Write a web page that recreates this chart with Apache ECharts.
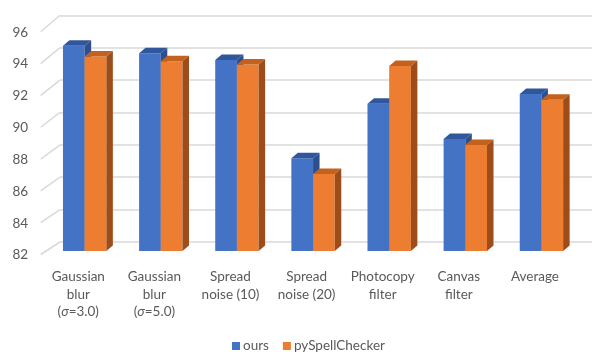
<!DOCTYPE html>
<html>
<head>
<meta charset="utf-8">
<script src="https://cdn.jsdelivr.net/npm/echarts@6/dist/echarts.min.js"></script>
<style>
  html, body { margin: 0; padding: 0; background: #fff; }
  #chart { width: 592px; height: 352px; }
</style>
</head>
<body>
<div id="chart"></div>
<script>
// Recognition accuracy per distortion type
const categories = [
  'Gaussian\nblur\n(σ=3.0)',
  'Gaussian\nblur\n(σ=5.0)',
  'Spread\nnoise (10)',
  'Spread\nnoise (20)',
  'Photocopy\nfilter',
  'Canvas\nfilter',
  'Average'
];
const seriesNames = ['ours', 'pySpellChecker'];
const ours = [94.67, 94.2, 93.79, 87.72, 91.09, 88.91, 91.69];
const pySpellChecker = [94.0, 93.71, 93.52, 86.75, 93.42, 88.54, 91.34];
const yMin = 82, yMax = 96, yStep = 2;
const yTicks = [82, 84, 86, 88, 90, 92, 94, 96];

// Layout of the pseudo-3D box: front floor (labels), back wall (gridlines), bar plane
const FRONT = { left: 40.2, right: 19, top: 32.3, height: 222.7 };
const BACK = { left: 60, right: 0, top: 15.3, height: 226.7 };
const BARS = { left: 46.6, right: 12.5, top: 24.2, height: 226.8 };
const DEPTH_X = 6.5, DEPTH_Y = 5.5;

const FONT = 'Lato, "Open Sans", sans-serif';
const TEXT = '#595959';
const GRID_LINE = '#d9d9d9';

const palettes = {
  ours: { front: '#4472c4', top: '#30569b', side: '#2d4f8e' },
  pySpellChecker: { front: '#ed7d31', top: '#c3621f', side: '#9e4d1a' }
};

function barRenderer(offsetSide, pal) {
  return function (params, api) {
    const i = api.value(0);
    const v = api.value(1);
    const topPt = api.coord([i, v]);
    const basePt = api.coord([i, yMin]);
    const w = api.size([1, 0])[0] * 0.285;
    const x0 = offsetSide < 0 ? topPt[0] - w : topPt[0];
    const x1 = x0 + w;
    const yT = topPt[1], yB = basePt[1];
    return {
      type: 'group',
      children: [
        { type: 'rect', shape: { x: x0, y: yT, width: w, height: yB - yT },
          style: { fill: pal.front } },
        { type: 'polygon', shape: { points: [[x0, yT], [x0 + DEPTH_X, yT - DEPTH_Y], [x1 + DEPTH_X, yT - DEPTH_Y], [x1, yT]] },
          style: { fill: pal.top } },
        { type: 'polygon', shape: { points: [[x1, yT], [x1 + DEPTH_X, yT - DEPTH_Y], [x1 + DEPTH_X, yB - DEPTH_Y], [x1, yB]] },
          style: { fill: pal.side } }
      ]
    };
  };
}

const chart = echarts.init(document.getElementById('chart'), null, { renderer: 'canvas' });

const option = {
  animation: false,
  backgroundColor: '#ffffff',
  grid: [
    { left: FRONT.left, right: FRONT.right, top: FRONT.top, height: FRONT.height },
    { left: BACK.left, right: BACK.right, top: BACK.top, height: BACK.height },
    { left: BARS.left, right: BARS.right, top: BARS.top, height: BARS.height }
  ],
  xAxis: [
    {
      gridIndex: 0, type: 'category', data: categories,
      axisLine: { show: false }, axisTick: { show: false },
      axisLabel: {
        interval: 0, margin: 13, color: TEXT, fontFamily: FONT, fontSize: 13.5, lineHeight: 17.5,
        formatter: function (s) { return s.replace('σ', '{i|σ}'); },
        rich: { i: { fontStyle: 'italic', color: TEXT, fontFamily: FONT, fontSize: 13.5, lineHeight: 17.5 } }
      }
    },
    { gridIndex: 1, type: 'category', data: categories, show: false },
    { gridIndex: 2, type: 'category', data: categories, show: false }
  ],
  yAxis: [
    {
      gridIndex: 0, type: 'value', min: yMin, max: yMax, interval: yStep,
      axisLine: { show: false }, axisTick: { show: false }, splitLine: { show: false },
      axisLabel: { margin: 12, color: TEXT, fontFamily: FONT, fontSize: 13.5 }
    },
    {
      gridIndex: 1, type: 'value', min: yMin, max: yMax, interval: yStep,
      axisLine: { show: false }, axisTick: { show: false }, axisLabel: { show: false },
      splitLine: { show: true, lineStyle: { color: GRID_LINE, width: 1.5 } }
    },
    {
      gridIndex: 2, type: 'value', min: yMin, max: yMax, interval: yStep, show: false,
      splitLine: { show: false }
    }
  ],
  legend: {
    data: seriesNames,
    left: 232, top: 339, padding: 0,
    icon: 'rect', itemWidth: 8, itemHeight: 8, itemGap: 14,
    textStyle: { color: TEXT, fontFamily: FONT, fontSize: 13.5, padding: [0, 0, 0, -2] }
  },
  series: [
    {
      name: 'ours', type: 'custom', xAxisIndex: 2, yAxisIndex: 2,
      itemStyle: { color: palettes.ours.front },
      renderItem: barRenderer(-1, palettes.ours),
      data: ours.map(function (v, i) { return [i, v]; }),
      z: 3
    },
    {
      name: 'pySpellChecker', type: 'custom', xAxisIndex: 2, yAxisIndex: 2,
      itemStyle: { color: palettes.pySpellChecker.front },
      renderItem: barRenderer(1, palettes.pySpellChecker),
      data: pySpellChecker.map(function (v, i) { return [i, v]; }),
      z: 4
    }
  ]
};

chart.setOption(option);

// Side-wall lines joining each front tick to its gridline on the back wall
const wallLines = yTicks.map(function (t) {
  const yFront = chart.convertToPixel({ yAxisIndex: 0 }, t);
  const yBack = chart.convertToPixel({ yAxisIndex: 1 }, t);
  return {
    type: 'line', z: 1,
    shape: { x1: FRONT.left + 0.5, y1: yFront - 0.5, x2: BACK.left, y2: yBack },
    style: { stroke: GRID_LINE, lineWidth: 1.5 }
  };
});
chart.setOption({ graphic: wallLines });
</script>
</body>
</html>
